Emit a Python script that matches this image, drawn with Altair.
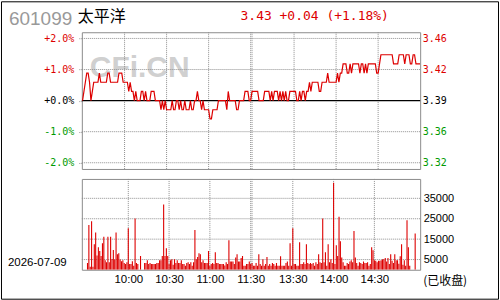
import altair as alt
import pandas as pd

# ---------------- data ----------------
stock_code = "601099"
stock_name = "太平洋"
quote_text = "3.43 +0.04 (+1.18%)"
trade_date = "2026-07-09"
status_text = "(已收盘)"
watermark = "CFi.CN"
prev_close = 3.39

prices = [
    3.39, 3.40, 3.41, 3.42, 3.42, 3.41, 3.39, 3.40, 3.41, 3.41,
    3.41, 3.41, 3.42, 3.41, 3.41, 3.41, 3.41, 3.41, 3.42, 3.42,
    3.41, 3.41, 3.41, 3.41, 3.41, 3.41, 3.42, 3.42, 3.42, 3.41,
    3.41, 3.41, 3.41, 3.40, 3.41, 3.40, 3.40, 3.39, 3.40, 3.39,
    3.39, 3.39, 3.40, 3.40, 3.39, 3.40, 3.39, 3.39, 3.39, 3.40,
    3.40, 3.40, 3.39, 3.39, 3.39, 3.39, 3.38, 3.39, 3.38, 3.39,
    3.38, 3.38, 3.38, 3.38, 3.39, 3.38, 3.38, 3.39, 3.39, 3.38,
    3.39, 3.38, 3.38, 3.39, 3.38, 3.38, 3.38, 3.39, 3.38, 3.38,
    3.39, 3.39, 3.40, 3.39, 3.39, 3.38, 3.39, 3.38, 3.38, 3.38,
    3.38, 3.37, 3.37, 3.38, 3.38, 3.38, 3.38, 3.39, 3.39, 3.39,
    3.39, 3.39, 3.39, 3.38, 3.40, 3.39, 3.39, 3.39, 3.39, 3.39,
    3.38, 3.38, 3.39, 3.39, 3.39, 3.39, 3.40, 3.40, 3.40, 3.39,
    3.39, 3.40, 3.40, 3.40, 3.40, 3.40, 3.39, 3.39, 3.39, 3.39,
    3.40, 3.40, 3.40, 3.40, 3.39, 3.40, 3.39, 3.40, 3.40, 3.40,
    3.39, 3.40, 3.39, 3.40, 3.39, 3.40, 3.39, 3.39, 3.40, 3.40,
    3.40, 3.40, 3.40, 3.39, 3.39, 3.40, 3.39, 3.40, 3.40, 3.39,
    3.40, 3.40, 3.41, 3.40, 3.41, 3.41, 3.41, 3.41, 3.41, 3.40,
    3.40, 3.41, 3.41, 3.41, 3.41, 3.42, 3.41, 3.41, 3.41, 3.41,
    3.41, 3.41, 3.42, 3.41, 3.42, 3.42, 3.43, 3.43, 3.43, 3.42,
    3.42, 3.43, 3.42, 3.43, 3.43, 3.43, 3.43, 3.43, 3.42, 3.43,
    3.43, 3.42, 3.43, 3.42, 3.43, 3.43, 3.43, 3.43, 3.43, 3.43,
    3.42, 3.42, 3.43, 3.44, 3.44, 3.44, 3.44, 3.44, 3.44, 3.44,
    3.44, 3.44, 3.43, 3.43, 3.43, 3.43, 3.44, 3.44, 3.44, 3.44,
    3.43, 3.44, 3.44, 3.44, 3.43, 3.43, 3.44, 3.44, 3.43, 3.43,
    3.43, 3.43,
]

volumes = [
    3300, 21900, 1500, 23800, 1500, 12500, 18300, 7000, 11000, 9200,
    6800, 13000, 16200, 4700, 3700, 16200, 3700, 16200, 5300, 9700,
    5000, 18300, 7600, 8100, 5000, 4200, 4700, 3300, 2800, 3700,
    20300, 2800, 2800, 4200, 2000, 25100, 3300, 2800, 0, 6800,
    0, 0, 3300, 3300, 4700, 2800, 3300, 2800, 2800, 2800,
    2800, 3300, 3300, 4700, 4700, 6800, 32000, 6800, 10500, 6800,
    2800, 4700, 5200, 2500, 5200, 3300, 4700, 3300, 3300, 4700,
    2800, 2800, 2000, 3300, 3700, 2800, 3700, 2000, 3700, 19500,
    5200, 6200, 8100, 7600, 3700, 4700, 3300, 3300, 3300, 9200,
    2000, 2800, 3300, 2800, 8600, 3300, 3300, 2800, 2800, 2800,
    2800, 2100, 3700, 2800, 14400, 4100, 4100, 4100, 2800, 6000,
    7600, 4100, 4100, 5800, 6800, 2000, 2000, 2800, 2800, 4100,
    2800, 3300, 2000, 2000, 3300, 2000, 7600, 2800, 2000, 5200,
    2000, 2800, 6300, 2000, 2800, 2000, 3300, 2800, 2000, 3300,
    2000, 2000, 6600, 2000, 2000, 2000, 3300, 4100, 2000, 13000,
    2000, 20300, 2800, 2800, 2000, 2000, 13500, 2800, 2800, 3700,
    2800, 12500, 3300, 2800, 3300, 2800, 3300, 2000, 3700, 2800,
    7600, 3700, 3300, 25100, 3700, 8600, 2000, 12500, 3700, 5200,
    3300, 42600, 2800, 12000, 6800, 26000, 14000, 6000, 3700, 2000,
    2000, 3300, 2800, 4100, 4700, 3700, 19000, 6000, 3300, 2000,
    3700, 3300, 2800, 4100, 3300, 3300, 3700, 2000, 2800, 11000,
    9600, 4700, 4400, 3700, 4400, 4400, 4700, 5200, 5200, 5800,
    4100, 5800, 2800, 7600, 4400, 3300, 7600, 4700, 4700, 3000,
    6600, 12500, 2500, 4700, 2000, 24200, 11000, 2000, 0, 0,
    0, 17800,
]

pct_ticks = [-2, -1, 0, 1, 2]
vol_ticks = [5000, 15000, 25000, 35000]
grid_minutes = [30, 60, 90, 120, 121, 151, 181, 211]
time_tick_minutes = [30, 60, 90, 120, 151, 181, 211]
time_tick_labels = ["10:00", "10:30", "11:00", "11:30", "13:30", "14:00", "14:30"]

# ---------------- frame ----------------
df = pd.DataFrame({"i": list(range(len(prices))), "price": prices, "vol": volumes})
df["pct"] = (df["price"] - prev_close) / prev_close * 100

W, H1, H2 = 339, 137, 91
OX, OY1, OY2 = 81, 31, 178  # plot origins in the page

RED = "#dd0000"
GREEN = "#009a00"
GRID = "#8f8f8f"
MONO = "DejaVu Sans Mono"
SANS = "Liberation Sans"
CJK = "Noto Sans CJK SC"

x_scale = alt.Scale(domain=[-0.5, 241], nice=False, zero=False)
pct_scale = alt.Scale(domain=[-2.2, 2.2], nice=False, zero=False)
price_scale = alt.Scale(domain=[prev_close * (1 - 0.022), prev_close * (1 + 0.022)],
                        nice=False, zero=False)
vol_scale = alt.Scale(domain=[0, 44500], nice=False)

price_tick_values = [prev_close * (1 + p / 100) for p in pct_ticks]

time_expr = "".join(
    f"datum.value == {m} ? '{lab}' : " for m, lab in zip(time_tick_minutes, time_tick_labels)
) + "''"


def one(text):
    return pd.DataFrame({"t": [text]})


left_axis = alt.Axis(
    orient="left", values=pct_ticks, title=None, grid=False, domain=False,
    ticks=True, tickSize=4, tickColor=GRID, tickDash=[1, 1], labelPadding=4,
    labelFont=MONO, labelFontSize=10,
    labelExpr="(datum.value < 0 ? '-' : '+') + format(abs(datum.value), '.1f') + '%'",
    labelColor={"condition": [{"test": "datum.value > 0.001", "value": RED},
                              {"test": "datum.value < -0.001", "value": GREEN}],
                "value": "black"},
)

time_axis = alt.Axis(
    values=time_tick_minutes, labelExpr=time_expr, title=None, grid=False,
    domain=False, ticks=False, labelPadding=4, labelFont=SANS,
    labelFontSize=11.5, labelColor="black", labelOverlap=False, labelFlush=False,
)

vol_axis = alt.Axis(
    orient="right", values=vol_ticks, title=None, grid=False, domain=False,
    ticks=False, labelPadding=3, labelFont=SANS, labelFontSize=11,
    labelColor="black", format="d",
)

# ---------------- price panel ----------------
wm = alt.Chart(one(watermark)).mark_text(
    font=SANS, fontSize=30, fontWeight="bold", color="#d0d0d0",
    align="left", baseline="alphabetic"
).encode(x=alt.value(8), y=alt.value(45), text="t:N")

hgrid1 = alt.Chart(pd.DataFrame({"p": [p for p in pct_ticks if p != 0]})).mark_rule(
    color=GRID, strokeDash=[1, 1], strokeWidth=1
).encode(y=alt.Y("p:Q", scale=pct_scale, axis=left_axis))

vgrid1 = alt.Chart(pd.DataFrame({"m": grid_minutes})).mark_rule(
    color=GRID, strokeDash=[1, 1], strokeWidth=1
).encode(x=alt.X("m:Q", scale=x_scale, axis=None))

zero_rule = alt.Chart(pd.DataFrame({"p": [0]})).mark_rule(
    color="black", strokeWidth=1.3
).encode(y=alt.Y("p:Q", scale=pct_scale, axis=left_axis))

price_line = alt.Chart(df).mark_line(color=RED, strokeWidth=1.2, clip=True).encode(
    x=alt.X("i:Q", scale=x_scale, axis=None),
    y=alt.Y("pct:Q", scale=pct_scale, axis=left_axis),
)

code_txt = alt.Chart(one(stock_code)).mark_text(
    font=SANS, fontSize=19, color="#999999", align="left", baseline="alphabetic"
).encode(x=alt.value(8 - OX), y=alt.value(24 - OY1), text="t:N")
name_txt = alt.Chart(one(stock_name)).mark_text(
    font=CJK, fontSize=16, color="black", align="left", baseline="middle"
).encode(x=alt.value(77 - OX), y=alt.value(15.5 - OY1), text="t:N")
quote_txt = alt.Chart(one(quote_text)).mark_text(
    font=MONO, fontSize=13, color=RED, align="left", baseline="alphabetic"
).encode(x=alt.value(240 - OX), y=alt.value(19 - OY1), text="t:N")

pct_layers = alt.layer(wm, vgrid1, hgrid1, zero_rule, price_line, code_txt, name_txt, quote_txt)

price_axis_layer = alt.Chart(df).mark_line(opacity=0).encode(
    x=alt.X("i:Q", scale=x_scale, axis=None),
    y=alt.Y("price:Q", scale=price_scale, axis=alt.Axis(
        orient="right", values=price_tick_values, format=".2f", title=None,
        grid=False, domain=False, ticks=False, labelPadding=2,
        labelFont=MONO, labelFontSize=10,
        labelColor={"condition": [{"test": f"datum.value > {prev_close + 0.0001}", "value": RED},
                                  {"test": f"datum.value < {prev_close - 0.0001}", "value": GREEN}],
                    "value": "black"},
    )),
)

top = alt.layer(pct_layers, price_axis_layer).resolve_scale(y="independent").properties(
    width=W, height=H1
)

# ---------------- volume panel ----------------
hgrid2 = alt.Chart(pd.DataFrame({"v": vol_ticks})).mark_rule(
    color=GRID, strokeDash=[1, 1], strokeWidth=1
).encode(y=alt.Y("v:Q", scale=vol_scale, axis=vol_axis))

vgrid2 = alt.Chart(pd.DataFrame({"m": grid_minutes})).mark_rule(
    color=GRID, strokeDash=[1, 1], strokeWidth=1
).encode(x=alt.X("m:Q", scale=x_scale, axis=time_axis))

bars = alt.Chart(df).mark_bar(color=RED, size=1.1, clip=True).encode(
    x=alt.X("i:Q", scale=x_scale, axis=time_axis),
    y=alt.Y("vol:Q", scale=vol_scale, axis=vol_axis),
)

date_txt = alt.Chart(one(trade_date)).mark_text(
    font=SANS, fontSize=11.5, color="black", align="left", baseline="middle"
).encode(x=alt.value(7 - OX), y=alt.value(262 - OY2), text="t:N")
status_txt = alt.Chart(one(status_text)).mark_text(
    font=CJK, fontSize=12, color="black", align="left", baseline="middle"
).encode(x=alt.value(423 - OX), y=alt.value(280 - OY2), text="t:N")

frame = alt.Chart(one("")).mark_rect(
    fillOpacity=0, stroke="black", strokeWidth=1
).encode(
    x=alt.value(0.5 - OX), x2=alt.value(498.5 - OX),
    y=alt.value(0.5 - OY2), y2=alt.value(298.5 - OY2),
)

bottom = alt.layer(vgrid2, hgrid2, bars, date_txt, status_txt, frame).properties(
    width=W, height=H2
)

chart = alt.vconcat(top, bottom, spacing=10, bounds="flush").properties(
    padding=0, background="white"
).configure_view(stroke="#8c8c8c", strokeWidth=1)

chart.save("out.html", embed_options={"renderer": "svg", "actions": False})
